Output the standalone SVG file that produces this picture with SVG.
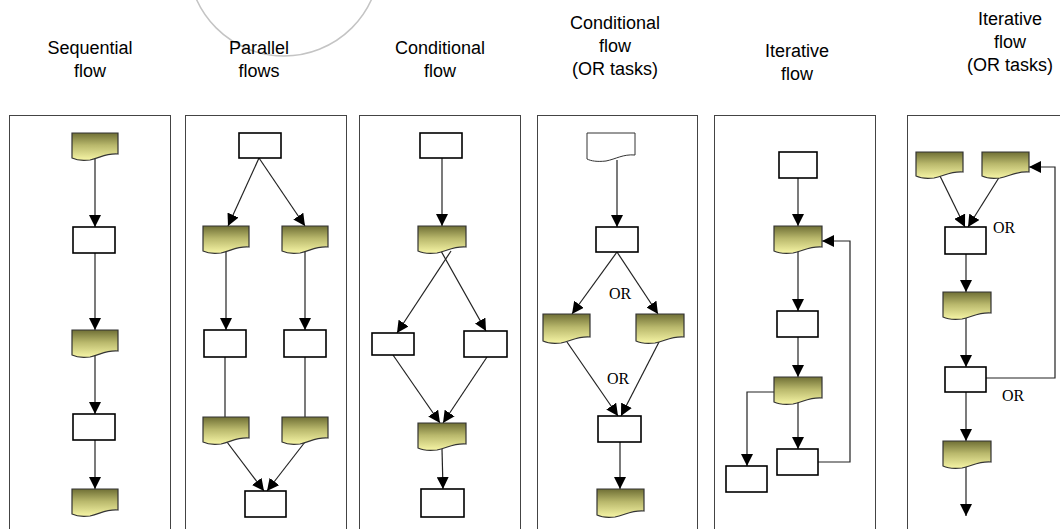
<svg xmlns="http://www.w3.org/2000/svg" width="1060" height="529" viewBox="0 0 1060 529">
<defs>
<linearGradient id="docg" x1="0" y1="0" x2="0" y2="1">
<stop offset="0" stop-color="#6f6f35"/>
<stop offset="0.45" stop-color="#b9b86c"/>
<stop offset="1" stop-color="#f7f6a6"/>
</linearGradient>
<marker id="ah" markerUnits="userSpaceOnUse" markerWidth="12" markerHeight="12" refX="12" refY="6" orient="auto" viewBox="0 0 12 12">
<path d="M0,0 L12,6 L0,12 Z" fill="#000"/>
</marker>
</defs>
<style>
.frame{fill:none;stroke:#444;stroke-width:1}
.box{fill:#fff;stroke:#000;stroke-width:1.6}
.doc{fill:url(#docg);stroke:#333;stroke-width:1.2}
.docw{fill:#fff;stroke:#333;stroke-width:1}
.hdr{font-family:"Liberation Sans",Arial,sans-serif;font-size:18px;fill:#000;text-anchor:middle}
.or{font-family:"Liberation Serif","Times New Roman",serif;font-size:16px;fill:#000}
.cn{fill:none;stroke:#222;stroke-width:1.2}
.arr{marker-end:url(#ah)}
</style>

<g id="watermark">
<circle cx="284" cy="-40" r="96" fill="none" stroke="#c4c4c4" stroke-width="1.5"/>
</g>

<g id="headers">
<text class="hdr" x="90" y="54">Sequential</text>
<text class="hdr" x="90" y="77">flow</text>
<text class="hdr" x="259" y="54">Parallel</text>
<text class="hdr" x="259" y="77">flows</text>
<text class="hdr" x="440" y="54">Conditional</text>
<text class="hdr" x="440" y="77">flow</text>
<text class="hdr" x="615" y="29">Conditional</text>
<text class="hdr" x="615" y="52">flow</text>
<text class="hdr" x="615" y="75">(OR tasks)</text>
<text class="hdr" x="797" y="57">Iterative</text>
<text class="hdr" x="797" y="80">flow</text>
<text class="hdr" x="1010" y="25">Iterative</text>
<text class="hdr" x="1010" y="48">flow</text>
<text class="hdr" x="1010" y="71">(OR tasks)</text>
</g>

<g id="frames">
<rect class="frame" x="9.5" y="115.5" width="161" height="420"/>
<rect class="frame" x="185.5" y="115.5" width="161" height="420"/>
<rect class="frame" x="359.5" y="115.5" width="161" height="420"/>
<rect class="frame" x="537.5" y="115.5" width="160" height="420"/>
<rect class="frame" x="714.5" y="115.5" width="161" height="420"/>
<rect class="frame" x="907.5" y="115.5" width="160" height="420"/>
</g>

<g id="connectors">
<!-- P1 -->
<line class="cn arr" x1="95" y1="158" x2="95" y2="227"/>
<line class="cn arr" x1="95" y1="253" x2="95" y2="330"/>
<line class="cn arr" x1="95" y1="355" x2="95" y2="414"/>
<line class="cn arr" x1="95" y1="440" x2="95" y2="489"/>
<!-- P2 -->
<line class="cn arr" x1="259" y1="158" x2="228" y2="226"/>
<line class="cn arr" x1="259" y1="158" x2="305" y2="226"/>
<line class="cn arr" x1="226" y1="251" x2="226" y2="330"/>
<line class="cn arr" x1="305" y1="251" x2="305" y2="330"/>
<line class="cn" x1="225" y1="357" x2="225" y2="417"/>
<line class="cn" x1="305" y1="357" x2="305" y2="417"/>
<line class="cn arr" x1="227" y1="442" x2="264" y2="491"/>
<line class="cn arr" x1="305" y1="442" x2="267" y2="491"/>
<!-- P3 -->
<line class="cn arr" x1="442" y1="158" x2="442" y2="226"/>
<line class="cn arr" x1="451" y1="251" x2="397" y2="333"/>
<line class="cn arr" x1="441" y1="251" x2="486" y2="331"/>
<line class="cn arr" x1="393" y1="355" x2="440" y2="423"/>
<line class="cn arr" x1="487" y1="357" x2="443" y2="423"/>
<line class="cn arr" x1="442" y1="449" x2="443" y2="489"/>
<!-- P4 -->
<line class="cn arr" x1="617" y1="160" x2="617" y2="227"/>
<line class="cn arr" x1="617" y1="252" x2="572" y2="314"/>
<line class="cn arr" x1="617" y1="252" x2="658" y2="314"/>
<line class="cn arr" x1="567" y1="342" x2="618" y2="416"/>
<line class="cn arr" x1="659" y1="342" x2="621" y2="416"/>
<line class="cn arr" x1="620" y1="442" x2="620" y2="489"/>
<!-- P5 -->
<line class="cn arr" x1="798" y1="178" x2="798" y2="226"/>
<line class="cn arr" x1="798" y1="251" x2="798" y2="311"/>
<line class="cn arr" x1="798" y1="337" x2="798" y2="377"/>
<line class="cn arr" x1="798" y1="402" x2="798" y2="449"/>
<polyline class="cn arr" points="774,392 747,392 747,466"/>
<polyline class="cn arr" points="818,462 850,462 850,241 822,241"/>
<!-- P6 -->
<line class="cn arr" x1="940" y1="176" x2="965" y2="227"/>
<line class="cn arr" x1="1000" y1="176" x2="968" y2="227"/>
<line class="cn arr" x1="966" y1="254" x2="966" y2="292"/>
<line class="cn arr" x1="966" y1="318" x2="966" y2="367"/>
<line class="cn arr" x1="966" y1="392" x2="966" y2="441"/>
<line class="cn arr" x1="966" y1="466" x2="966" y2="516"/>
<polyline class="cn arr" points="986,378 1055,378 1055,167 1029,167"/>
</g>

<g id="labels">
<text class="or" x="609" y="299">OR</text>
<text class="or" x="607" y="384">OR</text>
<text class="or" x="993" y="233">OR</text>
<text class="or" x="1002" y="401">OR</text>
</g>

<!-- P1 nodes -->
<g id="p1-doc1"><path class="doc" d="M72,133 H118 V154 C106,153 100,158 90,160 C82,161 76,160 72,158 Z"/></g>
<g id="p1-task1"><rect class="box" x="73" y="227" width="42" height="26"/></g>
<g id="p1-doc2"><path class="doc" d="M72,330 H118 V351 C106,350 100,355 90,357 C82,358 76,357 72,355 Z"/></g>
<g id="p1-task2"><rect class="box" x="73" y="414" width="42" height="26"/></g>
<g id="p1-doc3"><path class="doc" d="M72,489 H118 V510 C106,509 100,514 90,516 C82,517 76,516 72,514 Z"/></g>

<!-- P2 nodes -->
<g id="p2-task1"><rect class="box" x="239" y="133" width="42" height="25"/></g>
<g id="p2-doc1"><path class="doc" d="M203,226 H249 V247 C237,246 231,251 221,253 C213,254 207,253 203,251 Z"/></g>
<g id="p2-doc2"><path class="doc" d="M282,226 H328 V247 C316,246 310,251 300,253 C292,254 286,253 282,251 Z"/></g>
<g id="p2-task2"><rect class="box" x="204" y="330" width="42" height="27"/></g>
<g id="p2-task3"><rect class="box" x="284" y="330" width="42" height="27"/></g>
<g id="p2-doc3"><path class="doc" d="M203,417 H249 V438 C237,437 231,442 221,444 C213,445 207,444 203,442 Z"/></g>
<g id="p2-doc4"><path class="doc" d="M282,417 H328 V438 C316,437 310,442 300,444 C292,445 286,444 282,442 Z"/></g>
<g id="p2-task4"><rect class="box" x="245" y="491" width="41" height="26"/></g>

<!-- P3 nodes -->
<g id="p3-task1"><rect class="box" x="420" y="133" width="42" height="25"/></g>
<g id="p3-doc1"><path class="doc" d="M418,226 H466 V247 C454,246 447,251 437,253 C428,254 422,253 418,251 Z"/></g>
<g id="p3-task2"><rect class="box" x="372" y="333" width="42" height="22"/></g>
<g id="p3-task3"><rect class="box" x="464" y="331" width="43" height="26"/></g>
<g id="p3-doc2"><path class="doc" d="M418,423 H466 V444 C454,443 447,448 437,450 C428,451 422,450 418,448 Z"/></g>
<g id="p3-task4"><rect class="box" x="421" y="489" width="43" height="28"/></g>

<!-- P4 nodes -->
<g id="p4-doc0"><path class="docw" d="M587,133 H635 V155 C623,154 616,159 606,161 C597,162 591,161 587,159 Z"/></g>
<g id="p4-task1"><rect class="box" x="596" y="227" width="42" height="25"/></g>
<g id="p4-doc1"><path class="doc" d="M543,314 H590 V337 C578,336 571,341 561,343 C552,344 547,343 543,341 Z"/></g>
<g id="p4-doc2"><path class="doc" d="M636,314 H684 V337 C672,336 665,341 655,343 C646,344 640,343 636,341 Z"/></g>
<g id="p4-task2"><rect class="box" x="598" y="416" width="43" height="26"/></g>
<g id="p4-doc3"><path class="doc" d="M597,489 H644 V511 C632,510 625,515 615,517 C606,518 601,517 597,515 Z"/></g>

<!-- P5 nodes -->
<g id="p5-task1"><rect class="box" x="779" y="152" width="38" height="26"/></g>
<g id="p5-doc1"><path class="doc" d="M774,226 H822 V247 C810,246 803,251 793,253 C784,254 778,253 774,251 Z"/></g>
<g id="p5-task2"><rect class="box" x="777" y="311" width="41" height="26"/></g>
<g id="p5-doc2"><path class="doc" d="M774,377 H822 V398 C810,397 803,402 793,404 C784,405 778,404 774,402 Z"/></g>
<g id="p5-task3"><rect class="box" x="777" y="449" width="41" height="26"/></g>
<g id="p5-task4"><rect class="box" x="726" y="466" width="41" height="26"/></g>

<!-- P6 nodes -->
<g id="p6-doc1"><path class="doc" d="M916,152 H963 V172 C951,171 944,176 934,178 C925,179 920,178 916,176 Z"/></g>
<g id="p6-doc2"><path class="doc" d="M982,152 H1029 V172 C1017,171 1010,176 1000,178 C991,179 986,178 982,176 Z"/></g>
<g id="p6-task1"><rect class="box" x="945" y="227" width="41" height="27"/></g>
<g id="p6-doc3"><path class="doc" d="M943,292 H991 V313 C979,312 972,317 962,319 C953,320 947,319 943,317 Z"/></g>
<g id="p6-task2"><rect class="box" x="945" y="367" width="41" height="25"/></g>
<g id="p6-doc4"><path class="doc" d="M943,441 H991 V462 C979,461 972,466 962,468 C953,469 947,468 943,466 Z"/></g>
</svg>
